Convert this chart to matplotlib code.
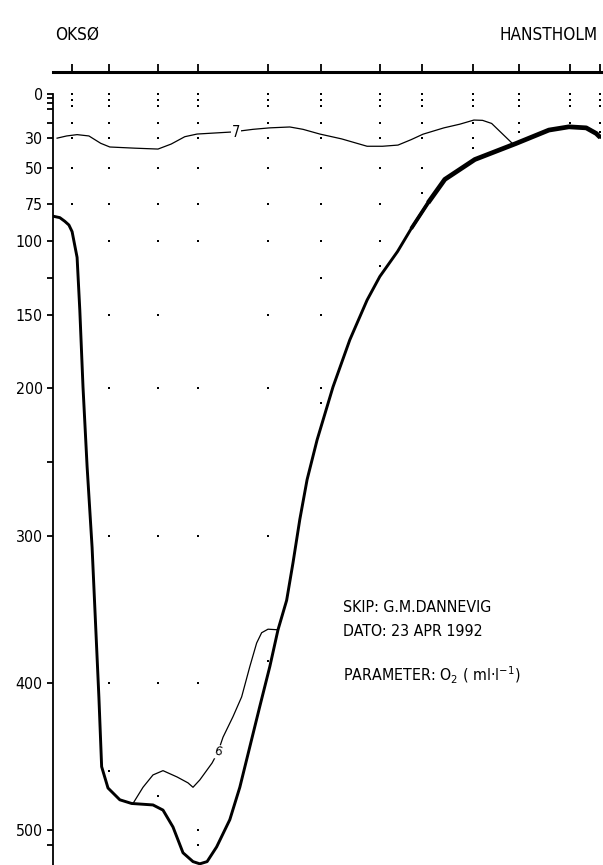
import matplotlib.pyplot as plt
import numpy as np
from matplotlib import font_manager

# smal skrift hvis den finnes
fl = font_manager.fontManager.ttflist
names = {f.name for f in fl}
if 'Liberation Sans Narrow' in names:
    fam, stretch, k = 'Liberation Sans Narrow', 'normal', 1.0
elif any(f.name == 'DejaVu Sans' and f.stretch in ('condensed', 'semi-condensed') for f in fl):
    fam, stretch, k = 'DejaVu Sans', 'condensed', 0.95
else:
    fam, stretch, k = 'Liberation Sans', 'normal', 0.9

plt.rcParams['font.family'] = [fam, 'DejaVu Sans']
plt.rcParams['font.stretch'] = stretch
plt.rcParams['mathtext.fontset'] = 'custom'
plt.rcParams['mathtext.rm'] = fam
plt.rcParams['mathtext.default'] = 'regular'

# stasjoner, km fra Oksø
stasjoner = [4.2, 12.3, 23.1, 31.9, 47.3, 59.0, 71.9, 81.2, 92.4, 102.5, 113.7, 120.3]

# proevedyp (m): felles topp + resten per stasjon
topp = [0, 4, 8]
dyp = [
    [20, 30, 50, 75],
    [20, 30, 50, 75, 100, 150, 200, 300, 400, 460],
    [20, 30, 50, 75, 100, 150, 200, 300, 400, 477],
    [20, 30, 50, 75, 100, 200, 300, 400, 500, 510],
    [20, 30, 50, 75, 100, 150, 200, 300, 385],
    [20, 30, 50, 75, 100, 125, 150, 200, 210],
    [20, 30, 50, 75, 100, 117],
    [20, 30, 50, 67],
    [20, 30, 37],
    [20, 26],
    [20],
    [20, 26],
]

# bunnprofil
bunn_x = [0.0, 1.5, 2.6, 3.5, 4.2, 5.3, 5.9, 6.6, 7.5, 8.6, 10.1, 10.7, 12.1, 14.7, 17.3, 22.0,
          24.2, 26.4, 28.6, 30.8, 32.3, 33.9, 36.0, 38.9, 41.1, 43.3, 45.5, 47.7, 49.5,
          51.4, 52.8, 54.3, 55.9, 58.1, 61.6, 65.3, 69.1, 71.9, 75.8, 78.8, 82.5, 86.2,
          92.8, 101.8, 109.1, 113.5, 117.3, 119.5, 120.4]
bunn_d = [83, 84, 86.5, 89, 93.5, 111, 147, 199, 253, 308, 410, 457, 471.5, 479.5, 482, 483,
          486.5, 498, 515.5, 521.5, 523, 521.5, 511.5, 493, 471, 443.5, 416, 389, 364,
          344, 318.5, 289, 262, 235, 199, 167, 140, 124, 107, 91.5, 74, 58,
          44.5, 33.7, 24.5, 22.3, 23, 26.8, 29.5]

# isolinje O2 = 7
o2_7_x = [0.9, 3.0, 5.3, 7.9, 10.5, 12.5, 18.0, 23.1, 26.0, 29.0, 31.7, 39.4, 44.0, 47.7,
          52.1, 55.0, 58.7, 63.5, 69.1, 72.5, 75.9, 78.8, 81.4, 86.0, 89.5, 92.6, 94.5,
          96.5, 101.3]
o2_7_d = [30.0, 28.5, 27.6, 28.5, 33.5, 36.0, 36.8, 37.4, 34.0, 29.0, 27.2, 25.8, 24.0, 23.0,
          22.4, 24.0, 27.2, 30.5, 35.5, 35.5, 34.7, 31.0, 27.3, 23.0, 20.5, 17.7, 17.9,
          20.0, 34.3]

# isolinje O2 = 6
o2_6_x = [17.6, 19.8, 22.0, 24.2, 27.3, 29.7, 30.8, 32.3, 35.0, 36.3, 37.4, 39.6, 41.5,
          43.3, 44.8, 45.9, 47.3, 49.5]
o2_6_d = [482, 471, 462.6, 459.7, 464, 468, 471, 466, 454.5, 447, 437, 423, 409.6,
          389, 373, 366, 363.6, 364]

yticks = [0, 3, 6, 10, 20, 30, 50, 75, 100, 125, 150, 200, 250, 300, 400, 500, 510]
ylabels = ['0', '', '', '', '', '30', '50', '75', '100', '', '150', '200', '', '300', '400', '500', '']

fig = plt.figure(figsize=(6.03, 8.65), dpi=100)
ax = fig.add_axes([53 / 603, 0, 547.5 / 603, 793 / 865])

ax.plot(bunn_x, bunn_d, color='black', lw=2.1, solid_joinstyle='round', solid_capstyle='round')
bx = np.array(bunn_x)
bd = np.array(bunn_d)
# tykkere strek på den grunne delen mot Hanstholm
m = bx >= 82.5
ax.plot(bx[m], bd[m], color='black', lw=3.4, solid_joinstyle='round', solid_capstyle='butt')
m2 = (bx >= 78.8) & (bx <= 82.5)
ax.plot(bx[m2], bd[m2], color='black', lw=2.7, solid_capstyle='butt')

ax.plot(o2_7_x, o2_7_d, color='black', lw=0.9)
ax.plot(o2_6_x, o2_6_d, color='black', lw=0.9)
ax.text(40.3, 26, '7', ha='center', va='center', fontsize=11 * k,
        bbox=dict(fc='white', ec='none', pad=0.6), zorder=5)
ax.text(36.3, 447, '6', ha='center', va='center', fontsize=10 * k, rotation=-15,
        bbox=dict(fc='white', ec='none', pad=0.4), zorder=5)

for s, d in zip(stasjoner, dyp):
    dd = topp + d
    ax.plot([s] * len(dd), dd, 's', color='black', ms=2.0, mew=0)

ax.set_xlim(0, 120.45)
ax.set_ylim(523.8, -14.95)
ax.spines['bottom'].set_visible(False)
ax.spines['right'].set_visible(False)
ax.spines['top'].set_linewidth(2.2)
ax.spines['left'].set_linewidth(1.3)
ax.spines['left'].set_bounds(0, 523.8)

ax.xaxis.set_ticks_position('top')
ax.set_xticks(stasjoner)
ax.tick_params(axis='x', direction='out', length=6, width=1.3, labeltop=False)
ax.set_yticks(yticks)
ax.set_yticklabels(ylabels)
ax.tick_params(axis='y', direction='out', length=4.5, width=1.3, labelsize=12 * k, pad=3)

fig.text(55 / 603, 1 - 35 / 865, 'OKSØ', ha='left', va='center', fontsize=13 * k)
fig.text(598 / 603, 1 - 35 / 865, 'HANSTHOLM', ha='right', va='center', fontsize=13 * k)

fig.text(343 / 603, 1 - 607 / 865, 'SKIP: G.M.DANNEVIG', ha='left', va='center', fontsize=12 * k)
fig.text(343 / 603, 1 - 631 / 865, 'DATO: 23 APR 1992', ha='left', va='center', fontsize=12 * k)
fig.text(343 / 603, 1 - 675 / 865, 'PARAMETER: O$_2$ ( ml·l$^{-1}$)', ha='left', va='center',
         fontsize=12 * k)

fig.savefig('out.png', dpi=100)
